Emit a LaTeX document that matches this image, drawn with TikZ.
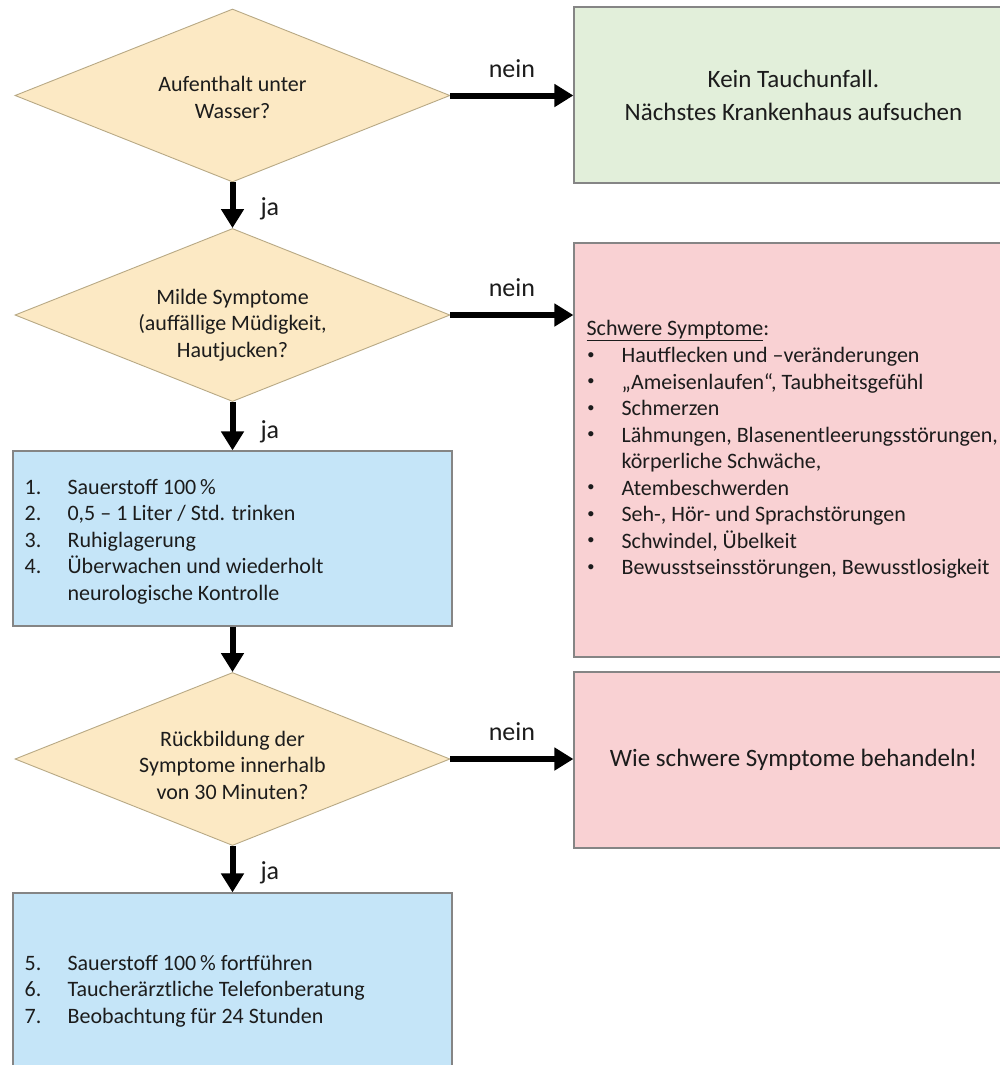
\documentclass[tikz,border=0pt]{standalone}
\usepackage{fontspec}
\setmainfont{Carlito}
\newfontfamily\bulfont{Liberation Sans}
\usetikzlibrary{arrows.meta,shapes.geometric}
\definecolor{diaF}{HTML}{FCE9C4}
\definecolor{diaB}{HTML}{B8A985}
\definecolor{grnF}{HTML}{E2EFDA}
\definecolor{redF}{HTML}{F9D1D3}
\definecolor{bluF}{HTML}{C5E5F8}
\definecolor{boxB}{HTML}{858585}
\definecolor{txt}{HTML}{1C1C1C}
\newcommand{\bul}{\makebox[35bp][l]{\hspace*{1bp}\raisebox{1.2bp}{\bulfont\fontsize{19bp}{19bp}\selectfont •}}}
\begin{document}
\begin{tikzpicture}[x=1bp,y=-1bp,
  dia/.style={diamond, aspect=2.5, draw=diaB, line width=0.9bp, fill=diaF,
    minimum width=435bp, minimum height=173bp, inner sep=0pt},
  diatext/.style={inner sep=0pt, align=center, text=txt,
    font=\fontsize{22bp}{26.5bp}\selectfont},
  box/.style={rectangle, draw=boxB, line width=1.2bp, minimum width=439bp,
    inner sep=0pt, text=txt},
  bigtext/.style={font=\fontsize{25bp}{33bp}\selectfont, align=center},
  listtext/.style={inner sep=0pt, align=left, text=txt,
    font=\fontsize{22bp}{26.5bp}\selectfont},
  lbl/.style={inner sep=0pt, text=txt, font=\fontsize{26bp}{30bp}\selectfont},
  arr/.style={line width=6bp, -{Triangle[width=22bp,length=19bp]}}
]
\clip (0,0) rectangle (1000,1065);
\fill[white] (0,0) rectangle (1000,1065);

% decisions
\node[dia] (d1) at (232.5,95.5) {};
\node[diatext] (d1t) at ([yshift=-2bp]d1.center) {Aufenthalt unter\\Wasser?};
\node[dia] (d2) at (232.5,315) {};
\node[diatext] (d2t) at ([yshift=-10bp]d2.center) {Milde Symptome\\(auffällige Müdigkeit,\\Hautjucken?};
\node[dia] (d3) at (232.5,759) {};
\node[diatext] (d3t) at ([yshift=-6bp]d3.center) {Rückbildung der\\Symptome innerhalb\\von 30 Minuten?};

% right boxes
\node[box, fill=grnF, minimum height=176bp, bigtext] (g1) at (793.5,95) {Kein Tauchunfall.\\Nächstes Krankenhaus aufsuchen};
\node[box, fill=redF, minimum height=414bp] (r1) at (793.5,450) {};
\node[listtext, anchor=west] (r1t) at ([xshift=13bp,yshift=1bp]r1.west) {%
\underline{Schwere Symptome}:\\[1bp]
\bul Hautflecken und –veränderungen\\
\bul „Ameisenlaufen“, Taubheitsgefühl\\
\bul Schmerzen\\
\bul Lähmungen, Blasenentleerungsstörungen,\\
\hspace*{35bp}körperliche Schwäche,\\
\bul Atembeschwerden\\
\bul Seh-, Hör- und Sprachstörungen\\
\bul Schwindel, Übelkeit\\
\bul Bewusstseinsstörungen, Bewusstlosigkeit};
\node[box, fill=redF, minimum height=176bp, bigtext] (r2) at (793.5,760) {Wie schwere Symptome behandeln!};

% left boxes
\node[box, fill=bluF, minimum height=175bp] (b1) at (232.5,538.5) {};
\node[listtext, anchor=west] (b1t) at ([xshift=12bp,yshift=-3bp]b1.west) {%
\makebox[43bp][l]{1.}Sauerstoff 100\,\%\\
\makebox[43bp][l]{2.}0,5 – 1 Liter / Std. trinken\\
\makebox[43bp][l]{3.}Ruhiglagerung\\
\makebox[43bp][l]{4.}Überwachen und wiederholt\\
\hspace*{43bp}neurologische Kontrolle};
\node[box, fill=bluF, minimum height=192bp] (b2) at (232.5,989) {};
\node[listtext, anchor=west] (b2t) at ([xshift=12bp,yshift=-2bp]b2.west) {%
\makebox[43bp][l]{5.}Sauerstoff 100\,\% fortführen\\
\makebox[43bp][l]{6.}Taucherärztliche Telefonberatung\\
\makebox[43bp][l]{7.}Beobachtung für 24 Stunden};

% connectors
\draw[arr] (d1.east) -- node[lbl, above=15bp] (n1) {nein} (d1.east -| g1.west);
\draw[arr] (d2.east) -- node[lbl, above=15bp] (n2) {nein} (d2.east -| r1.west);
\draw[arr] (d3.east) -- node[lbl, above=15bp] (n3) {nein} (d3.east -| r2.west);
\draw[arr] (d1.south) -- node[lbl, right=25bp, yshift=-4bp] (j1) {ja} (d2.north);
\draw[arr] (d2.south) -- node[lbl, right=25bp, yshift=-6bp] (j2) {ja} (b1.north);
\draw[arr] (b1.south) -- (d3.north);
\draw[arr] (d3.south) -- node[lbl, right=25bp, yshift=-4bp] (j3) {ja} (b2.north);
\end{tikzpicture}
\end{document}
